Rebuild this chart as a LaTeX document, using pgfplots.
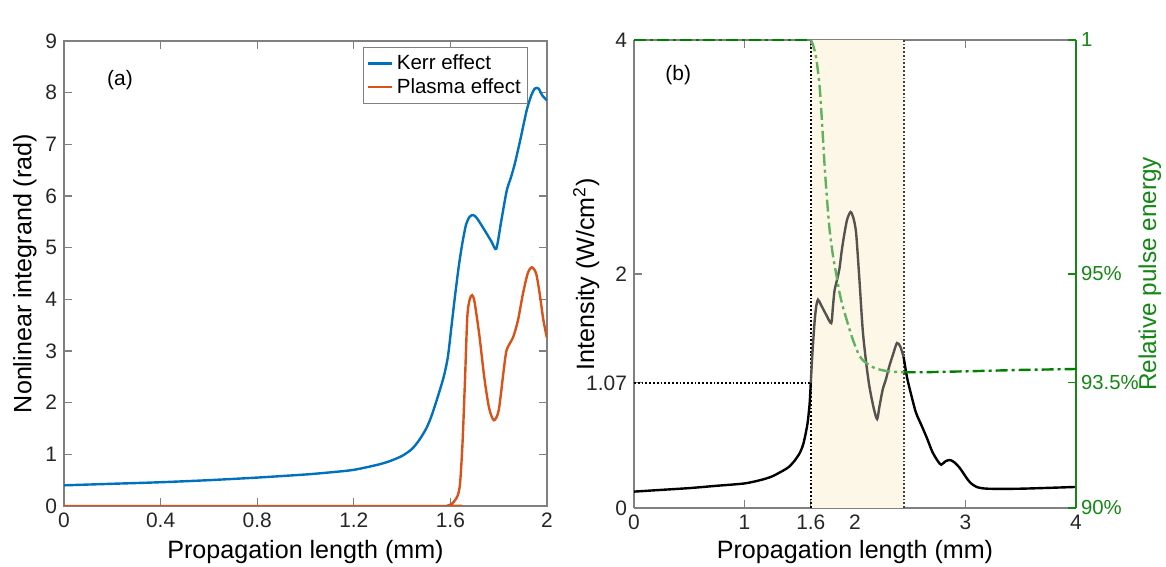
\documentclass[border=0pt]{standalone}
\usepackage{pgfplots}
\pgfplotsset{compat=1.18}
\usepackage{fontspec}
\setmainfont{Liberation Sans}
\definecolor{kerr}{RGB}{0,114,189}
\definecolor{plasma}{RGB}{217,83,25}
\definecolor{dgreen}{RGB}{0,128,0}
\definecolor{lgreen}{RGB}{95,178,95}
\definecolor{beige}{RGB}{253,247,232}
\definecolor{curvegray}{RGB}{85,83,78}
\definecolor{axgray}{RGB}{128,128,128}
\definecolor{tickgreen}{RGB}{20,135,20}
\pgfplotsset{
 mystyle/.style={
  scale only axis,
  tick align=inside,
  axis line style={axgray, line width=0.6pt},
  tick style={axgray, line width=0.6pt},
  major tick length=4bp,
  ticklabel style={font=\fontsize{10.5}{12}\selectfont, text=black!85},
  label style={font=\fontsize{12.6}{14}\selectfont},
  /pgf/number format/assume math mode=true,
  scaled ticks=false,
 },
 curve/.style={line width=1.2bp, smooth, tension=0.45},
}
\begin{document}
\begin{tikzpicture}
\path[use as bounding box] (0,0) rectangle (583bp,283.5bp);
% ---------------- Panel (a)
\begin{axis}[mystyle, at={(32bp,30.5bp)}, anchor=south west, width=241.5bp, height=232.5bp,
 xmin=0,xmax=2,ymin=0,ymax=9,
 xtick={0,0.4,0.8,1.2,1.6,2}, xticklabels={0,0.4,0.8,1.2,1.6,2},
 ytick={0,1,2,3,4,5,6,7,8,9}, yticklabels={0,1,2,3,4,5,6,7,8,9},
 xlabel={Propagation length (mm)}, ylabel={Nonlinear integrand (rad)},
 xlabel style={at={(axis description cs:0.5,-0.099)},anchor=center},
 ylabel style={at={(axis description cs:-0.081,0.5)},anchor=center},
 legend style={at={(0.961,0.987)},anchor=north east, draw=axgray, font=\fontsize{10.3}{12}\selectfont, inner sep=1.5bp, row sep=-1bp, cells={anchor=west}},
 legend image code/.code={\draw[#1] (0bp,0bp) -- (12bp,0bp);},
]
\addplot[kerr, curve] coordinates {
(0,0.40)(0.2,0.43)(0.4,0.46)(0.6,0.50)(0.8,0.55)(1.0,0.61)(1.1,0.65)(1.2,0.70)(1.3,0.80)(1.35,0.87)(1.4,0.97)(1.44,1.1)(1.47,1.27)(1.5,1.5)(1.52,1.72)(1.54,2.0)(1.56,2.3)(1.575,2.55)(1.59,2.9)(1.605,3.5)(1.62,4.1)(1.635,4.65)(1.65,5.1)(1.665,5.45)(1.68,5.6)(1.695,5.63)(1.71,5.57)(1.74,5.35)(1.77,5.12)(1.79,4.98)(1.81,5.5)(1.833,6.1)(1.85,6.35)(1.867,6.63)(1.89,7.1)(1.916,7.66)(1.935,7.95)(1.95,8.08)(1.965,8.08)(1.98,7.95)(2.0,7.85)};
\addlegendentry{Kerr effect}
\addplot[plasma, curve] coordinates {
(0,0)(1.55,0)(1.59,0.01)(1.61,0.06)(1.63,0.2)(1.64,0.44)(1.65,1.2)(1.66,2.38)(1.67,3.66)(1.68,4.0)(1.69,4.08)(1.70,3.95)(1.72,3.3)(1.74,2.5)(1.76,1.9)(1.78,1.66)(1.80,1.85)(1.82,2.6)(1.833,3.02)(1.86,3.27)(1.88,3.6)(1.90,4.1)(1.92,4.5)(1.937,4.62)(1.955,4.5)(1.97,4.1)(1.985,3.6)(2.0,3.25)};
\addlegendentry{Plasma effect}
\node[font=\fontsize{10.5}{12}\selectfont] at (axis cs:0.232,8.24) {(a)};
\node[anchor=south west, inner sep=0pt, font=\fontsize{10.8}{12}\selectfont] at (rel axis cs:0.005,1.025) {×10\textsuperscript{-3}};
\end{axis}
% ---------------- Panel (b)
\begin{axis}[mystyle, at={(317bp,29.5bp)}, anchor=south west, width=221bp, height=234bp,
 xmin=0,xmax=4,ymin=0,ymax=4, axis y line*=left,
 xtick={0,1,1.6,2,3,4}, xticklabels={0,1,1.6,2,3,4},
 ytick={0,1.07,2,4}, yticklabels={0,1.07,2,4},
 xlabel={Propagation length (mm)}, ylabel={Intensity (W/cm\textsuperscript{2})},
 xlabel style={at={(axis description cs:0.5,-0.094)},anchor=center},
 ylabel style={at={(axis description cs:-0.108,0.5)},anchor=center},
]
\addplot[fill=beige, draw=none] coordinates {(1.6,0)(2.44,0)(2.44,4)(1.6,4)} -- cycle;
\addplot[black, densely dotted, line width=0.9bp] coordinates {(1.6,0)(1.6,4)};
\addplot[black!75, densely dotted, line width=0.9bp] coordinates {(2.44,0)(2.44,4)};
\addplot[black, densely dotted, line width=0.9bp] coordinates {(0,1.07)(1.6,1.07)};
\addplot[black, curve] coordinates {
(0,0.14)(0.25,0.155)(0.5,0.17)(0.75,0.19)(1.0,0.21)(1.15,0.24)(1.25,0.27)(1.35,0.32)(1.4,0.35)(1.45,0.40)(1.5,0.47)(1.53,0.54)(1.55,0.62)(1.57,0.72)(1.58,0.80)(1.59,0.9)(1.6,1.07)};
\addplot[curvegray, curve] coordinates {
(1.6,1.07)(1.61,1.25)(1.62,1.4)(1.635,1.6)(1.65,1.73)(1.665,1.78)(1.69,1.74)(1.74,1.65)(1.785,1.58)(1.80,1.72)(1.815,1.86)(1.84,1.96)(1.86,2.05)(1.88,2.2)(1.905,2.35)(1.93,2.47)(1.96,2.53)(1.985,2.48)(2.01,2.35)(2.04,1.95)(2.07,1.52)(2.10,1.25)(2.13,1.04)(2.17,0.85)(2.20,0.76)(2.22,0.86)(2.25,1.01)(2.28,1.1)(2.31,1.21)(2.35,1.33)(2.38,1.41)(2.41,1.38)(2.44,1.29)};
\addplot[black, curve] coordinates {
(2.44,1.29)(2.47,1.12)(2.5,1.0)(2.55,0.82)(2.6,0.71)(2.65,0.6)(2.7,0.48)(2.75,0.40)(2.78,0.37)(2.82,0.40)(2.86,0.41)(2.9,0.39)(2.95,0.34)(3.0,0.27)(3.04,0.22)(3.1,0.18)(3.2,0.165)(3.5,0.165)(4.0,0.18)};
\node[font=\fontsize{10.5}{12}\selectfont] at (axis cs:0.4,3.7) {(b)};
\node[anchor=south west, inner sep=0pt, font=\fontsize{10.8}{12}\selectfont] at (rel axis cs:0.005,1.025) {×10\textsuperscript{13}};
\end{axis}
\begin{axis}[mystyle, at={(317bp,29.5bp)}, anchor=south west, width=221bp, height=234bp,
 xmin=0,xmax=4,ymin=0.9,ymax=1, axis x line=none, axis y line*=right,
 y axis line style={tickgreen}, ytick style={tickgreen},
 ytick={0.9,0.92675,0.95,1}, yticklabels={90\%,93.5\%,95\%,1},
 yticklabel style={text=tickgreen, font=\fontsize{10.2}{12}\selectfont, xshift=-1bp},
 ylabel={Relative pulse energy}, ylabel style={text=tickgreen, font=\fontsize{12.2}{14}\selectfont, inner sep=0pt, at={(axis description cs:1.167,0.5)},anchor=center},
]
\addplot[dgreen, line width=1.2bp, dash pattern=on 6bp off 2bp on 1.5bp off 2bp] coordinates {
(0,1.0)(1.55,1.0)(1.6,1.0)};
\addplot[lgreen, line width=1.2bp, smooth, tension=0.45, dash pattern=on 6bp off 2bp on 1.5bp off 2bp] coordinates {
(1.6,1.0)(1.62,0.999)(1.65,0.996)(1.68,0.99)(1.70,0.983)(1.72,0.975)(1.734,0.97)(1.75,0.965)(1.77,0.9595)(1.8,0.954)(1.83,0.950)(1.86,0.946)(1.89,0.943)(1.94,0.939)(1.98,0.936)(2.03,0.933)(2.07,0.9316)(2.13,0.9305)(2.19,0.9298)(2.3,0.9292)(2.44,0.929)};
\addplot[dgreen, line width=1.2bp, dash pattern=on 6bp off 2bp on 1.5bp off 2bp] coordinates {
(2.44,0.929)(2.6,0.929)(3,0.9292)(3.5,0.9295)(4,0.9297)};
\end{axis}
\end{tikzpicture}
\end{document}
